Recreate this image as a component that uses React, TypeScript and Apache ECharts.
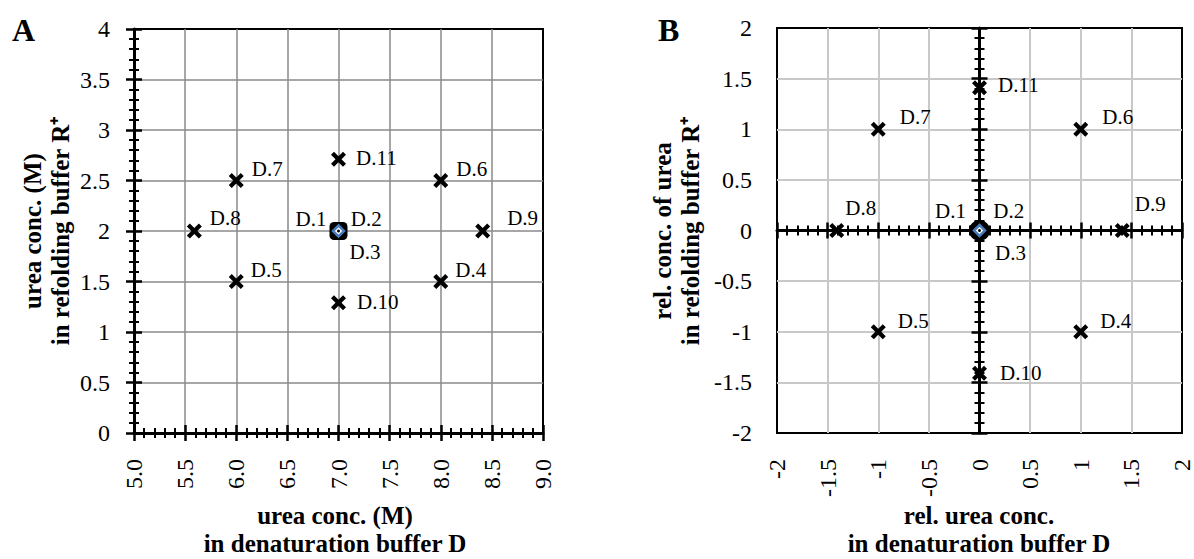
import React, { useEffect, useRef } from 'react';
import * as echarts from 'echarts';

// ---- data ----
const pointNames = ['D.4', 'D.5', 'D.6', 'D.7', 'D.8', 'D.9', 'D.10', 'D.11'];
const ureaDenat = [8.0, 6.0, 8.0, 6.0, 5.59, 8.41, 7.0, 7.0];
const ureaRefold = [1.5, 1.5, 2.5, 2.5, 2.0, 2.0, 1.29, 2.71];
const relDenat = [1, -1, 1, -1, -1.41, 1.41, 0, 0];
const relRefold = [-1, -1, 1, 1, 0, 0, -1.41, 1.41];
const centerNames = ['D.1', 'D.2', 'D.3'];
const centerUrea = [7.0, 2.0];
const centerRel = [0, 0];
const axisAX = { min: 5, max: 9, step: 0.5 };
const axisAY = { min: 0, max: 4, step: 0.5 };
const axisB = { min: -2, max: 2, step: 0.5 };
const titleAX = 'urea conc. (M)\nin denaturation buffer D';
const titleAY = 'urea conc. (M)\nin refolding buffer R⁺';
const titleBX = 'rel. urea conc.\nin denaturation buffer D';
const titleBY = 'rel. conc. of urea\nin refolding buffer R⁺';

// ---- styles ----
const FONT = 'Liberation Serif';
const X_PATH = 'path://M0,2 L2,0 L5,3 L8,0 L10,2 L7,5 L10,8 L8,10 L5,7 L2,10 L0,8 L3,5 Z';
const offA: Record<string, number[]> = {
  'D.4': [2, -12], 'D.5': [2, -12], 'D.6': [3, -12], 'D.7': [3, -12],
  'D.8': [3, -13], 'D.9': [12, -13], 'D.10': [6, -1], 'D.11': [5, -1],
};
const offB: Record<string, number[]> = {
  'D.4': [7, -11], 'D.5': [7, -11], 'D.6': [9, -12], 'D.7': [9, -12],
  'D.8': [-4, -23], 'D.9': [0, -27], 'D.10': [8, 0], 'D.11': [6, -3],
};

const gridA = { left: 134, top: 29, width: 409, height: 404 };
const gridB = { left: 777, top: 28, width: 405, height: 405 };

const tickStyle = { color: '#000', width: 2.5 };
const minorStyle = { color: '#000', width: 2 };

function mainAxis(gridIndex: number, r: any, labelFmt: (v: number) => string, rotate: number, margin: number, splitColor: string, splitWidth: number, showLine: boolean) {
  return {
    type: 'value', gridIndex, min: r.min, max: r.max, interval: r.step,
    axisLine: { show: showLine, onZero: false, lineStyle: { color: '#000', width: 3 } },
    axisTick: { show: showLine, length: 8, lineStyle: tickStyle },
    minorTick: { show: showLine, splitNumber: 5, length: 5, lineStyle: minorStyle },
    splitLine: { show: true, showMinLine: false, showMaxLine: false, lineStyle: { color: splitColor, width: splitWidth } },
    axisLabel: { show: true, rotate, margin, fontFamily: FONT, fontSize: 24, color: '#000', formatter: labelFmt },
  };
}
function tickAxis(gridIndex: number, r: any, inside: boolean, showLine: boolean, onZero: boolean) {
  return {
    type: 'value', gridIndex, min: r.min, max: r.max, interval: r.step,
    axisLine: { show: showLine, onZero, lineStyle: { color: '#000', width: 3 } },
    axisTick: { show: true, inside, length: 8, lineStyle: tickStyle },
    minorTick: { show: true, splitNumber: 5, length: 5, lineStyle: minorStyle },
    splitLine: { show: false },
    axisLabel: { show: false },
  };
}

const labelBase = { show: true, position: 'right', distance: 5, formatter: '{b}', fontFamily: FONT, fontSize: 21, color: '#000' };

function crossSeries(xi: number, xs: number[], ys: number[], offs: Record<string, number[]>) {
  return {
    type: 'scatter', xAxisIndex: xi, yAxisIndex: xi, symbol: X_PATH, symbolSize: 15, z: 5,
    itemStyle: { color: '#000', opacity: 1 },
    label: labelBase,
    data: pointNames.map((n, i) => ({ name: n, value: [xs[i], ys[i]], label: { offset: offs[n] } })),
  };
}

function centerSeries(xi: number, c: number[], big: string, bigSize: number, dy1: number, dy3: number, gap3: number) {
  return [
    {
      type: 'scatter', xAxisIndex: xi, yAxisIndex: xi, symbol: big, symbolSize: bigSize, z: 6,
      itemStyle: { color: '#000', opacity: 1 },
      label: { ...labelBase, position: 'left', distance: 3, offset: [0, dy1] },
      data: [{ name: centerNames[0], value: c }],
    },
    {
      type: 'scatter', xAxisIndex: xi, yAxisIndex: xi, symbol: 'diamond', symbolSize: 11, z: 7,
      itemStyle: { color: '#fff', borderColor: '#4a7ebb', borderWidth: 2.5, opacity: 1 },
      label: { ...labelBase, position: 'right', distance: (bigSize - 11) / 2 + 2, offset: [0, dy1] },
      data: [{ name: centerNames[1], value: c }],
    },
    {
      type: 'scatter', xAxisIndex: xi, yAxisIndex: xi, symbol: 'circle', symbolSize: 3, z: 8,
      itemStyle: { color: '#000', opacity: 1 },
      label: { ...labelBase, position: 'right', distance: (bigSize - 3) / 2 + gap3, offset: [0, dy3] },
      data: [{ name: centerNames[2], value: c }],
    },
  ];
}

function titleText(x: number, y: number, text: string, vertical: boolean) {
  return {
    type: 'text', x, y, rotation: vertical ? Math.PI / 2 : 0,
    style: { text, fill: '#000', font: `bold 25px "${FONT}"`, textAlign: 'center', textVerticalAlign: 'middle', lineHeight: 28 },
  };
}

export default function App() {
  const ref = useRef<HTMLDivElement>(null);
  useEffect(() => {
    if (!ref.current) return;
    const chart = echarts.init(ref.current, null, { renderer: 'svg' });
    const fmt1 = (v: number) => v.toFixed(1);
    const fmtA = (v: number) => String(v);
    chart.setOption({
      animation: false,
      backgroundColor: '#fff',
      grid: [
        { ...gridA, show: true, borderColor: '#000', borderWidth: 2, backgroundColor: 'transparent' },
        { ...gridA },
        { ...gridB, show: true, borderColor: '#000', borderWidth: 2, backgroundColor: 'transparent' },
        { ...gridB },
        { ...gridB },
      ],
      xAxis: [
        mainAxis(0, axisAX, fmt1, 90, 26, '#8a8a8a', 1.5, true),
        tickAxis(1, axisAX, true, false, false),
        mainAxis(2, axisB, fmtA, 90, 26, '#c8c8c8', 2, false),
        tickAxis(3, axisB, false, true, true),
        tickAxis(4, axisB, true, false, true),
      ],
      yAxis: [
        mainAxis(0, axisAY, fmtA, 0, 24, '#8a8a8a', 1.5, true),
        tickAxis(1, axisAY, true, false, false),
        mainAxis(2, axisB, fmtA, 0, 25, '#c8c8c8', 2, false),
        tickAxis(3, axisB, false, true, true),
        tickAxis(4, axisB, true, false, true),
      ],
      series: [
        crossSeries(0, ureaDenat, ureaRefold, offA),
        ...centerSeries(0, centerUrea, 'roundRect', 18, -12, 21, 2),
        crossSeries(2, relDenat, relRefold, offB),
        ...centerSeries(2, centerRel, 'circle', 21, -20, 22, 5),
      ],
      graphic: [
        { type: 'text', x: 12, y: 14, style: { text: 'A', fill: '#000', font: `bold 32px "${FONT}"` } },
        { type: 'text', x: 658, y: 14, style: { text: 'B', fill: '#000', font: `bold 32px "${FONT}"` } },
        titleText(46, 231, titleAY, true),
        titleText(335, 529, titleAX, false),
        titleText(676, 231, titleBY, true),
        titleText(979, 529, titleBX, false),
      ],
    });
    return () => chart.dispose();
  }, []);
  return <div ref={ref} style={{ position: 'absolute', left: 0, top: 0, width: 1194, height: 559 }} />;
}
